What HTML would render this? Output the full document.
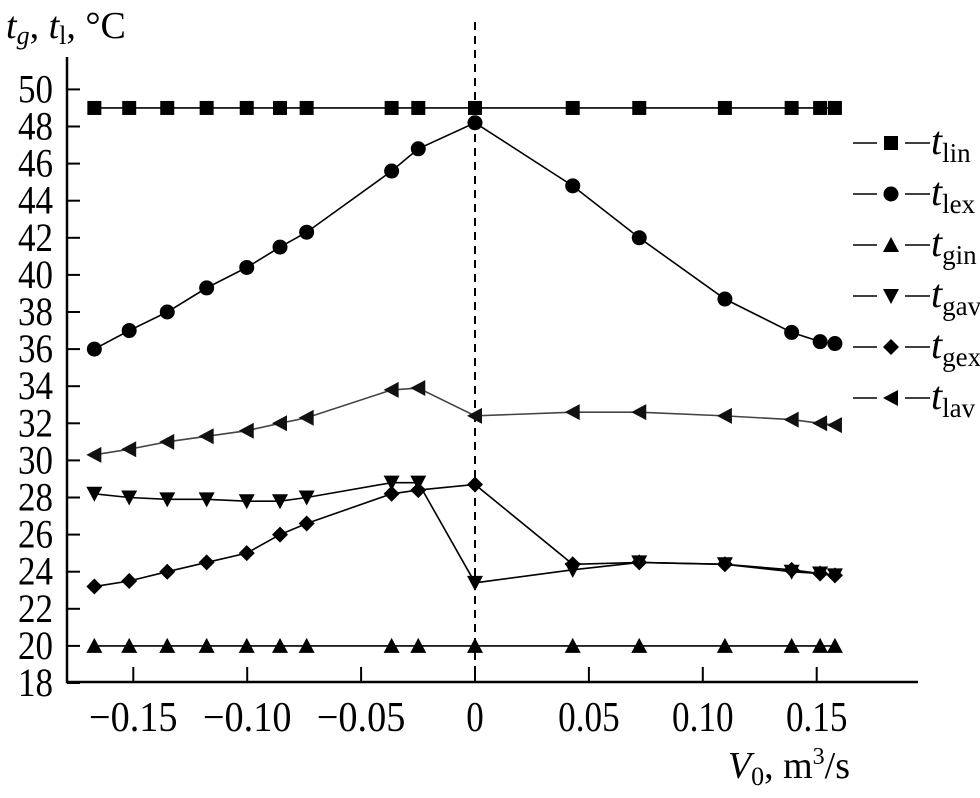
<!DOCTYPE html>
<html><head><meta charset="utf-8"><style>
body{margin:0;background:#fff}
svg{display:block;font-family:"Liberation Serif",serif}
</style></head><body>
<svg id="c" width="980" height="798" viewBox="0 0 980 798"></svg>
<script>
const xs=[-0.1671,-0.1518,-0.1351,-0.1178,-0.1002,-0.0856,-0.0739,-0.0366,-0.0249,0,0.0429,0.0721,0.1097,0.1390,0.1515,0.1580];
const tLin=[49,49,49,49,49,49,49,49,49,49,49,49,49,49,49,49];
const tLex=[36.0,37.0,38.0,39.3,40.4,41.5,42.3,45.6,46.8,48.2,44.8,42.0,38.7,36.9,36.4,36.3];
const tGin=[20,20,20,20,20,20,20,20,20,20,20,20,20,20,20,20];
const tGav=[28.2,28.0,27.9,27.9,27.8,27.8,28.0,28.8,28.8,23.4,24.1,24.5,24.4,24.0,23.9,23.8];
const tGex=[23.2,23.5,24.0,24.5,25.0,26.0,26.6,28.2,28.4,28.7,24.4,24.5,24.4,24.1,23.9,23.8];
const tLav=[30.3,30.6,31.0,31.3,31.6,32.0,32.3,33.8,33.9,32.4,32.6,32.6,32.4,32.2,32.0,31.9];
const xTicks=[-0.15,-0.10,-0.05,0,0.05,0.10,0.15];
const xTickLabels=["\u22120.15","\u22120.10","\u22120.05","0","0.05","0.10","0.15"];
const yTicks=[18,20,22,24,26,28,30,32,34,36,38,40,42,44,46,48,50];
const seriesNames=["lin","lex","gin","gav","gex","lav"];

const NS="http://www.w3.org/2000/svg";
const svg=document.getElementById('c');
const X=v=>475+v/0.05*113.9;
const Y=v=>683-(v-18)/2*37.1;
function mk(t,a,p){const e=document.createElementNS(NS,t);for(const k in a)e.setAttribute(k,a[k]);(p||svg).appendChild(e);return e;}
function tw(s){let w=0;for(const ch of s){w+=ch==='\u2212'?27:ch==='.'?9:17.5;}return w;}
let ax=mk('line',{x1:67,y1:57,x2:67,y2:683,stroke:'#000','stroke-width':2.5});


ax=mk('line',{x1:66,y1:682,x2:918,y2:682,stroke:'#000','stroke-width':2.5});


let dl=mk('line',{x1:X(0),y1:22,x2:X(0),y2:682,stroke:'#000','stroke-width':2,'stroke-dasharray':'8,6'});


yTicks.forEach(v=>{
  const l=mk('line',{x1:67,y1:Y(v),x2:80,y2:Y(v),stroke:'#000','stroke-width':2});
  
  
  const s=String(v);
  const t=mk('text',{x:53-tw(s),y:Y(v)+13,'font-size':40,textLength:tw(s),lengthAdjust:'spacingAndGlyphs'});
  t.textContent=s;
  
  
});
xTicks.forEach((v,i)=>{
  const l=mk('line',{x1:X(v),y1:682,x2:X(v),y2:667,stroke:'#000','stroke-width':2});
  
  
  const s=xTickLabels[i];
  const t=mk('text',{x:X(v)-tw(s)/2,y:731,'font-size':42,textLength:tw(s),lengthAdjust:'spacingAndGlyphs'});
  t.textContent=s;
  
  
});
function marker(type,x,y,p,col){
  const c=col||'#000';let e;
  if(type==='lin')e=mk('rect',{x:x-7,y:y-7,width:14,height:14,fill:c},p);
  else if(type==='lex')e=mk('circle',{cx:x,cy:y,r:7.5,fill:c},p);
  else if(type==='gin')e=mk('polygon',{points:`${x-8},${y+7} ${x+8},${y+7} ${x},${y-8}`,fill:c},p);
  else if(type==='gav')e=mk('polygon',{points:`${x-8},${y-7} ${x+8},${y-7} ${x},${y+8}`,fill:c},p);
  else if(type==='gex')e=mk('polygon',{points:`${x-8},${y} ${x},${y-8} ${x+8},${y} ${x},${y+8}`,fill:c},p);
  else e=mk('polygon',{points:`${x-8},${y} ${x+7},${y-8} ${x+7},${y+8}`,fill:c},p);
  return e;
}
const data=[tLin,tLex,tGin,tGav,tGex,tLav];
data.forEach((arr,si)=>{
  const g=mk('g',{});
  
  
  const col=si===5?'#444':'#000';
  const pl=mk('polyline',{points:arr.map((v,i)=>X(xs[i])+','+Y(v)).join(' '),fill:'none',stroke:col,'stroke-width':1.6},g);
  
  
  arr.forEach((v,i)=>{
    const m=marker(seriesNames[si],X(xs[i]),Y(v),g,si===5?'#111':'#000');
    
    
  });
});
const lg=mk('g',{});


seriesNames.forEach((n,i)=>{
  const y=143+i*51;
  const g=mk('g',{},lg);
  
  
  mk('line',{x1:853,y1:y,x2:877,y2:y,stroke:'#000','stroke-width':1.6},g);
  mk('line',{x1:905,y1:y,x2:930,y2:y,stroke:'#000','stroke-width':1.6},g);
  marker(n,891,y,g);
  const t=mk('text',{x:931,y:y+11,'font-size':40},g);
  t.innerHTML='<tspan font-style="italic">t</tspan><tspan font-size="27" dy="8">'+n+'</tspan>';
});
let yt=mk('text',{x:6,y:38,'font-size':38});
yt.innerHTML='<tspan font-style="italic">t</tspan><tspan font-style="italic" font-size="26" dy="6">g</tspan><tspan dy="-6">, </tspan><tspan font-style="italic">t</tspan><tspan font-size="26" dy="6">l</tspan><tspan dy="-6">, °C</tspan>';


let xt=mk('text',{x:850,y:778,'font-size':38,'text-anchor':'end'});
xt.innerHTML='<tspan font-style="italic">V</tspan><tspan font-size="26" dy="7">0</tspan><tspan dy="-7">, m</tspan><tspan font-size="24" dy="-14">3</tspan><tspan dy="14">/s</tspan>';


</script>
</body></html>
